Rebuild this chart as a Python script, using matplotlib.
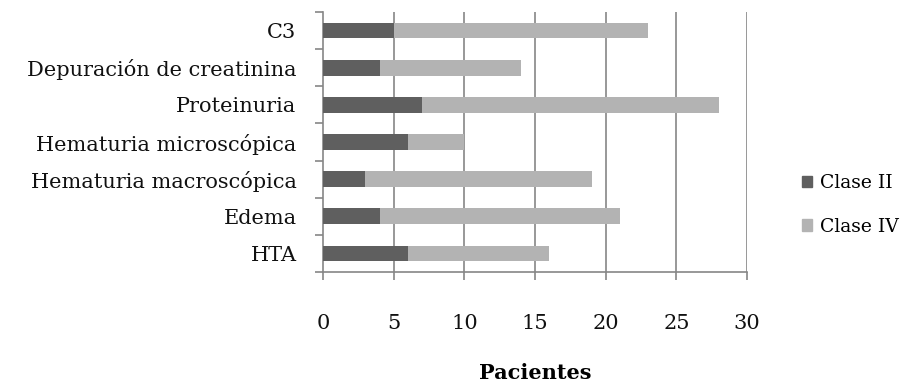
import numpy as np
import matplotlib.pyplot as plt
from matplotlib.patches import Patch

plt.rcParams['font.family'] = ['DejaVu Serif']

categorias = ["HTA", "Edema", "Hematuria macroscópica", "Hematuria microscópica",
              "Proteinuria", "Depuración de creatinina", "C3"]
clase_ii = [6, 4, 3, 6, 7, 4, 5]
clase_iv = [10, 17, 16, 4, 21, 10, 18]
xticks = [0, 5, 10, 15, 20, 25, 30]

C_II = "#5f5f5f"
C_IV = "#b3b3b3"
AX_C = "#868686"
FS = 15

fig = plt.figure(figsize=(9.18, 3.89), dpi=100)
ax = fig.add_axes([323 / 918, 1 - 272 / 389, (747 - 323) / 918, (272 - 12) / 389])

y = np.arange(len(categorias))
ax.barh(y, clase_ii, height=0.42, color=C_II, zorder=3)
ax.barh(y, clase_iv, left=clase_ii, height=0.42, color=C_IV, zorder=3)

ax.set_xlim(0, 30)
ax.set_ylim(-0.5, len(categorias) - 0.5)
ax.set_xticks(xticks)
ax.set_yticks(y)
ax.set_yticklabels(categorias)
ax.set_yticks(np.arange(-0.5, len(categorias)), minor=True)

for x in xticks[1:]:
    ax.axvline(x, color=AX_C, lw=1.2, zorder=1)

for s in ["top", "right"]:
    ax.spines[s].set_visible(False)
for s in ["left", "bottom"]:
    ax.spines[s].set_color(AX_C)
    ax.spines[s].set_linewidth(1.2)

ax.tick_params(axis="y", which="major", length=0, pad=19, labelsize=FS, colors="#111111")
ax.tick_params(axis="y", which="minor", length=6, width=1.2, color=AX_C)
ax.tick_params(axis="x", which="major", length=6, width=1.2, color=AX_C,
               pad=24, labelsize=FS, labelcolor="#111111")

ax.set_xlabel("Pacientes", fontsize=FS, fontweight="bold", labelpad=22)

handles = [Patch(color=C_II, label="Clase II"), Patch(color=C_IV, label="Clase IV")]
fig.legend(handles=handles, loc="center left", bbox_to_anchor=(802 / 918, 1 - 205 / 389),
           frameon=False, fontsize=13.5, handlelength=0.55, handleheight=0.55,
           handletextpad=0.4, labelspacing=1.35, borderpad=0, borderaxespad=0)

fig.savefig("out.png", dpi=100)
